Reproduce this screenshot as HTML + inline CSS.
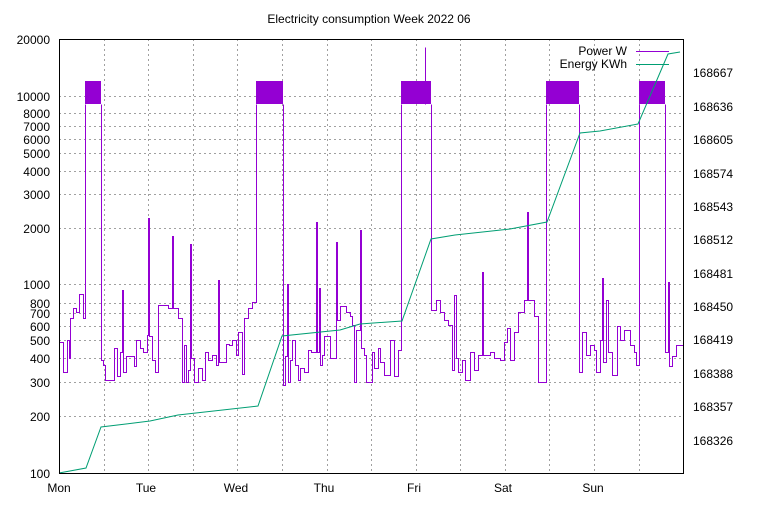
<!DOCTYPE html>
<html><head><meta charset="utf-8"><style>
body{margin:0;background:#fff}
svg text{font-family:"Liberation Sans",sans-serif;font-size:12px;fill:#000}
</style></head><body>
<svg width="768" height="500" xmlns="http://www.w3.org/2000/svg">
<rect width="768" height="500" fill="#fff"/>
<text x="369" y="23" text-anchor="middle">Electricity consumption Week 2022 06</text>
<g stroke="#a0a0a0" stroke-dasharray="2,3" stroke-width="1">
<line x1="59" x2="683" y1="416.5" y2="416.5"/><line x1="59" x2="683" y1="382.5" y2="382.5"/>
<line x1="59" x2="683" y1="358.5" y2="358.5"/><line x1="59" x2="683" y1="340.5" y2="340.5"/>
<line x1="59" x2="683" y1="326.5" y2="326.5"/><line x1="59" x2="683" y1="313.5" y2="313.5"/>
<line x1="59" x2="683" y1="303.5" y2="303.5"/><line x1="59" x2="683" y1="284.5" y2="284.5"/>
<line x1="59" x2="683" y1="228.5" y2="228.5"/><line x1="59" x2="683" y1="194.5" y2="194.5"/>
<line x1="59" x2="683" y1="171.5" y2="171.5"/><line x1="59" x2="683" y1="153.5" y2="153.5"/>
<line x1="59" x2="683" y1="139.5" y2="139.5"/><line x1="59" x2="683" y1="126.5" y2="126.5"/>
<line x1="59" x2="683" y1="113.5" y2="113.5"/><line x1="59" x2="683" y1="96.5" y2="96.5"/>
<line x1="104.5" x2="104.5" y1="39" y2="473"/><line x1="148.5" x2="148.5" y1="39" y2="473"/>
<line x1="193.5" x2="193.5" y1="39" y2="473"/><line x1="237.5" x2="237.5" y1="39" y2="473"/>
<line x1="282.5" x2="282.5" y1="39" y2="473"/><line x1="327.5" x2="327.5" y1="39" y2="473"/>
<line x1="371.5" x2="371.5" y1="39" y2="473"/><line x1="416.5" x2="416.5" y1="39" y2="473"/>
<line x1="460.5" x2="460.5" y1="39" y2="473"/><line x1="505.5" x2="505.5" y1="39" y2="473"/>
<line x1="549.5" x2="549.5" y1="39" y2="473"/><line x1="594.5" x2="594.5" y1="39" y2="473"/>
<line x1="639.5" x2="639.5" y1="39" y2="473"/>
</g>
<g fill="#9400d3">
<rect x="85" y="81" width="16" height="23"/><rect x="256" y="81" width="27" height="23"/>
<rect x="401" y="81" width="30" height="23"/><rect x="546" y="81" width="33" height="23"/>
<rect x="639" y="81" width="26" height="23"/>
</g>
<path transform="translate(0.5,0.5)" shape-rendering="crispEdges" fill="none" stroke="#9400d3" stroke-width="1" d="M59,342 H63 V372 H67 V340 H69 V358 H70 V318 H73 V308 H76 V312 H79 V294 H83 V318 H85 V104 M101,104 V360 H103 V365 H105 V380 H114 V348 H117 V376 H120 V352 H122 V290 H123 V372 H126 V356 H134 V366 H136 V340 H140 V348 H143 V352 H147 V335 H148 V218 H149 V336 H152 V360 H155 V372 H158 V305 H168 V308 H172 V236 H173 V308 H178 V318 H182 V382 H184 V345 H186 V382 H188 V370 H190 V244 H191 V358 H194 V382 H198 V368 H202 V380 H205 V352 H208 V360 H212 V355 H216 V365 H218 V280 H219 V362 H226 V344 H229 V345 H232 V340 H236 V355 H238 V332 H242 V374 H244 V318 H248 V308 H252 V302 H256 V104 M283,104 V385 H285 V356 H287 V284 H288 V382 H290 V360 H292 V340 H295 V365 H298 V380 H300 V368 H304 V372 H308 V350 H311 V352 H316 V222 H317 V352 H319 V288 H320 V365 H322 V355 H324 V336 H330 V358 H336 V242 H337 V320 H340 V306 H346 V312 H350 V316 H352 V325 H354 V382 H356 V330 H360 V230 H361 V348 H364 V355 H366 V382 H372 V352 H374 V368 H378 V348 H380 V362 H384 V375 H390 V340 H394 V376 H398 V350 H401 V104 M425,104 V47 M431,104 V310 H436 V300 H440 V312 H444 V320 H448 V325 H452 V370 H454 V295 H456 V358 H458 V372 H462 V360 H465 V380 H470 V352 H474 V370 H478 V355 H482 V272 H483 V355 H490 V352 H494 V358 H500 V360 H504 V342 H507 V328 H510 V360 H514 V332 H518 V312 H524 V300 H527 V212 H528 V300 H534 V316 H538 V382 H546 V104 M579,104 V372 H582 V332 H586 V355 H590 V345 H594 V350 H596 V372 H600 V340 H602 V278 H603 V362 H606 V300 H608 V352 H612 V375 H617 V326 H620 V340 H624 V330 H630 V345 H634 V352 H636 V365 H639 V104 M665,104 V352 H668 V282 H669 V366 H672 V356 H676 V345 H683"/>
<polyline fill="none" stroke="#009e73" stroke-width="1" points="59,473 86,468 101,427 150,421 178,415 258,406 282,336 340,330 360,324 402,321 431,239 455,235 510,229 547,222 580,133 600,131 638,124 668,54 680,52"/>
<rect x="59.5" y="39.5" width="624" height="434" fill="none" stroke="#000"/>
<g>
<line x1="636" x2="669" y1="51.5" y2="51.5" stroke="#9400d3"/>
<line x1="636" x2="669" y1="64.5" y2="64.5" stroke="#009e73"/>
</g>
<text x="627" y="55" text-anchor="end">Power W</text>
<text x="627" y="68" text-anchor="end">Energy KWh</text>
<g text-anchor="end">
<text x="50" y="44">20000</text><text x="50" y="101">10000</text><text x="50" y="118">8000</text>
<text x="50" y="131">7000</text><text x="50" y="144">6000</text><text x="50" y="158">5000</text>
<text x="50" y="176">4000</text><text x="50" y="199">3000</text><text x="50" y="233">2000</text>
<text x="50" y="289">1000</text><text x="50" y="308">800</text><text x="50" y="318">700</text>
<text x="50" y="331">600</text><text x="50" y="345">500</text><text x="50" y="363">400</text>
<text x="50" y="387">300</text><text x="50" y="421">200</text><text x="50" y="478">100</text>
</g>
<g>
<text x="693" y="77">168667</text><text x="693" y="111">168636</text><text x="693" y="144">168605</text>
<text x="693" y="178">168574</text><text x="693" y="211">168543</text><text x="693" y="244">168512</text>
<text x="693" y="278">168481</text><text x="693" y="311">168450</text><text x="693" y="344">168419</text>
<text x="693" y="378">168388</text><text x="693" y="411">168357</text><text x="693" y="445">168326</text>
</g>
<g text-anchor="middle">
<text x="59" y="492">Mon</text><text x="146" y="492">Tue</text><text x="236" y="492">Wed</text>
<text x="324" y="492">Thu</text><text x="414" y="492">Fri</text><text x="503" y="492">Sat</text>
<text x="593" y="492">Sun</text>
</g>
</svg>
</body></html>
